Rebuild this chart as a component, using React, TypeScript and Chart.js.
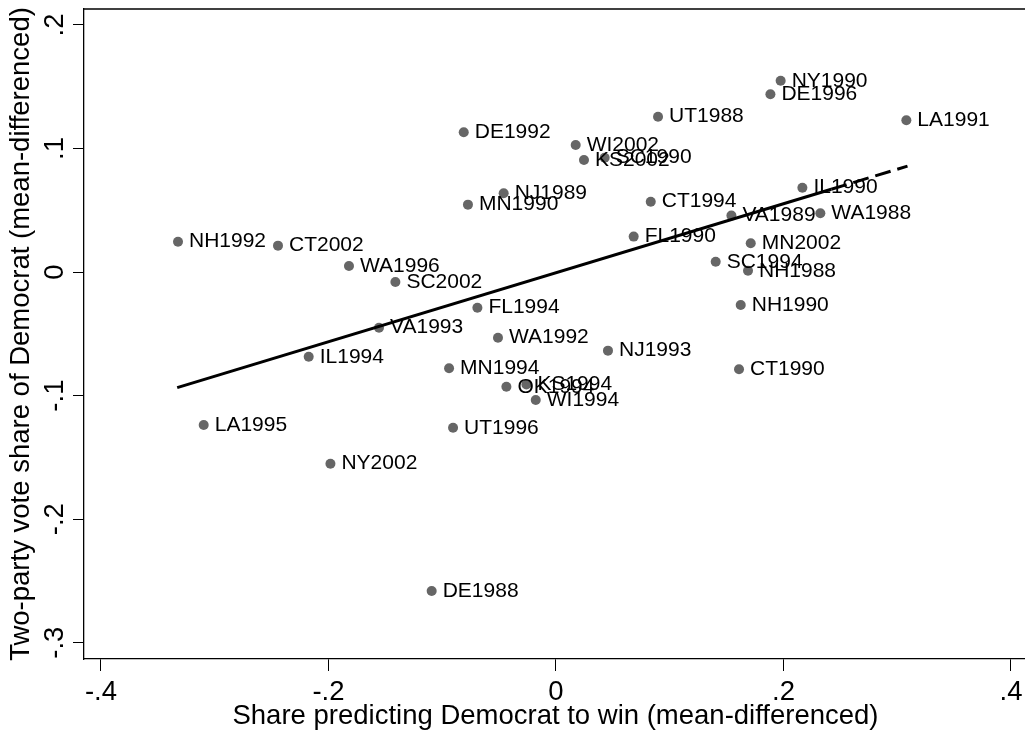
import React, { useEffect, useRef } from "react";
import { Chart, registerables } from "chart.js";

Chart.register(...registerables);

// ---- data ----
const pointLabels = [
  "DE1992", "MN1990", "NH1992", "CT2002", "WA1996", "SC2002", "FL1994",
  "NY1990", "DE1996", "UT1988", "LA1991", "WI2002", "KS2002", "SC1990",
  "NJ1989", "CT1994", "IL1990", "VA1989", "WA1988", "FL1990", "MN2002",
  "SC1994", "NH1988", "NH1990", "VA1993", "IL1994", "LA1995", "NY2002",
  "MN1994", "UT1996", "WA1992", "NJ1993", "CT1990", "OK1994", "KS1994",
  "WI1994", "DE1988",
];
const shareX = [
  -0.0811, -0.0774, -0.3323, -0.2444, -0.182, -0.1412, -0.0691,
  0.1975, 0.1885, 0.0897, 0.308, 0.0173, 0.0246, 0.0428,
  -0.046, 0.0833, 0.2166, 0.1542, 0.2324, 0.0683, 0.1712,
  0.1404, 0.1688, 0.1624, -0.1556, -0.2174, -0.3097, -0.1983,
  -0.094, -0.0905, -0.051, 0.0457, 0.1609, -0.0436, -0.026,
  -0.0178, -0.1093,
];
const voteY = [
  0.1132, 0.0546, 0.0246, 0.0214, 0.0049, -0.008, -0.0288,
  0.1549, 0.1439, 0.1258, 0.1229, 0.1029, 0.0907, 0.0926,
  0.0638, 0.057, 0.0683, 0.0457, 0.0476, 0.0287, 0.0233,
  0.0084, 0.0011, -0.0266, -0.045, -0.0685, -0.1238, -0.1551,
  -0.0779, -0.126, -0.0531, -0.0636, -0.0787, -0.0928, -0.0909,
  -0.1035, -0.2581,
];
const fitSolidX = [-0.333, 0.242];
const fitSolidY = [-0.0935, 0.067];
const fitDashX = [0.242, 0.309];
const fitDashY = [0.067, 0.0858];
const xTicks = [-0.4, -0.2, 0, 0.2, 0.4];
const yTicks = [-0.3, -0.2, -0.1, 0, 0.1, 0.2];
const xTitle = "Share predicting Democrat to win (mean-differenced)";
const yTitle = "Two-party vote share of Democrat (mean-differenced)";

const FONT = "'Liberation Sans', Arial, Helvetica, sans-serif";

function fmt(v: number): string {
  if (Math.abs(v) < 1e-9) return "0";
  return v.toFixed(1).replace("0.", ".");
}

const stataPlugin = {
  id: "stataLook",
  beforeDraw(chart: any) {
    const { ctx, width, height } = chart;
    ctx.save();
    ctx.fillStyle = "#ffffff";
    ctx.fillRect(0, 0, width, height);
    ctx.restore();
  },
  afterDatasetDraw(chart: any, args: any) {
    if (args.index !== 0) return;
    const { ctx } = chart;
    const meta = chart.getDatasetMeta(0);
    ctx.save();
    ctx.font = `21px ${FONT}`;
    ctx.fillStyle = "#000000";
    ctx.textAlign = "left";
    ctx.textBaseline = "middle";
    meta.data.forEach((pt: any, i: number) => {
      ctx.fillText(pointLabels[i], pt.x + 11, pt.y);
    });
    ctx.restore();
  },
  afterDraw(chart: any) {
    const { ctx, chartArea } = chart;
    ctx.save();
    ctx.strokeStyle = "#000000";
    ctx.lineWidth = 1.3;
    ctx.beginPath();
    ctx.moveTo(chartArea.left, chartArea.top);
    ctx.lineTo(chartArea.right, chartArea.top);
    ctx.stroke();
    // rotated y tick labels
    const ys = chart.scales.y;
    ctx.font = `27.5px ${FONT}`;
    ctx.fillStyle = "#000000";
    ctx.textAlign = "center";
    ctx.textBaseline = "alphabetic";
    yTicks.forEach((v) => {
      const py = ys.getPixelForValue(v);
      ctx.save();
      ctx.translate(ys.right - 11 - 10.5, py);
      ctx.rotate(-Math.PI / 2);
      ctx.fillText(fmt(v), 0, 0);
      ctx.restore();
    });
    ctx.restore();
  },
};

export default function App() {
  const canvasRef = useRef<HTMLCanvasElement | null>(null);

  useEffect(() => {
    if (!canvasRef.current) return;
    Chart.defaults.font.family = FONT;
    const points = shareX.map((x, i) => ({ x, y: voteY[i] }));
    const solid = fitSolidX.map((x, i) => ({ x, y: fitSolidY[i] }));
    const dashed = fitDashX.map((x, i) => ({ x, y: fitDashY[i] }));

    const chart = new Chart(canvasRef.current, {
      type: "scatter",
      data: {
        datasets: [
          {
            data: points,
            pointRadius: 5,
            pointHoverRadius: 5,
            pointBackgroundColor: "#666666",
            pointBorderWidth: 0,
            order: 2,
          } as any,
          {
            data: solid,
            showLine: true,
            borderColor: "#000000",
            borderWidth: 3,
            pointRadius: 0,
            order: 1,
          } as any,
          {
            data: dashed,
            showLine: true,
            borderColor: "#000000",
            borderWidth: 3,
            borderDash: [16, 7],
            pointRadius: 0,
            order: 0,
          } as any,
        ],
      },
      options: {
        responsive: false,
        animation: false,
        devicePixelRatio: 1,
        layout: { autoPadding: false, padding: { top: 9, left: 0, right: 0, bottom: 0 } },
        plugins: {
          legend: { display: false },
          tooltip: { enabled: false },
        },
        scales: {
          x: {
            type: "linear",
            position: "bottom",
            min: -0.41494,
            max: 0.41407,
            afterBuildTicks: (s: any) => {
              s.ticks = xTicks.map((v) => ({ value: v }));
            },
            afterFit: (s: any) => {
              s.height = 81;
              s.paddingLeft = 0;
              s.paddingRight = 0;
            },
            grid: {
              drawOnChartArea: false,
              drawTicks: true,
              tickLength: 12,
              color: "#000000",
              lineWidth: 1,
            },
            border: { display: true, color: "#000000", width: 1.3 },
            ticks: {
              color: "#000000",
              font: { size: 27.5 },
              padding: 5,
              maxRotation: 0,
              autoSkip: false,
              callback: (v: any) => fmt(Number(v)),
            },
            title: {
              display: true,
              text: xTitle,
              color: "#000000",
              font: { size: 27.5 },
              padding: { top: 0, bottom: 7 },
            },
          },
          y: {
            type: "linear",
            position: "left",
            min: -0.31319,
            max: 0.21295,
            afterBuildTicks: (s: any) => {
              s.ticks = yTicks.map((v) => ({ value: v }));
            },
            afterFit: (s: any) => {
              s.width = 84;
              s.paddingTop = 0;
              s.paddingBottom = 0;
            },
            grid: {
              drawOnChartArea: false,
              drawTicks: true,
              tickLength: 11,
              color: "#000000",
              lineWidth: 1,
            },
            border: { display: true, color: "#000000", width: 1.3 },
            ticks: { display: false },
            title: {
              display: true,
              text: yTitle,
              color: "#000000",
              font: { size: 27.5 },
              padding: { top: 4.5, bottom: 0 },
            },
          },
        },
      },
      plugins: [stataPlugin],
    } as any);

    return () => chart.destroy();
  }, []);

  return (
    <div
      style={{
        position: "fixed",
        left: 0,
        top: 0,
        width: 1025,
        height: 740,
        overflow: "hidden",
        background: "#ffffff",
      }}
    >
      <canvas ref={canvasRef} width={1027} height={740} style={{ display: "block" }} />
    </div>
  );
}
